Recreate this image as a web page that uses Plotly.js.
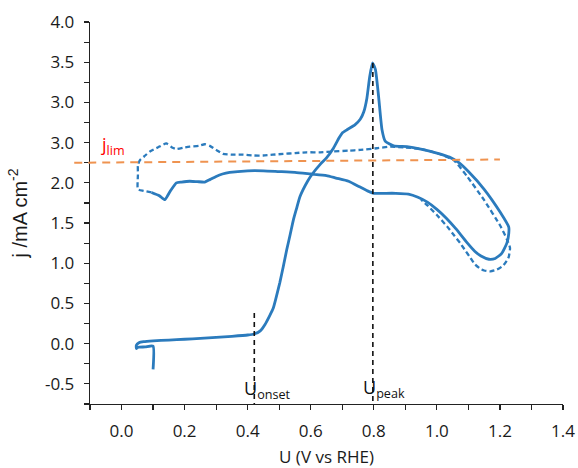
<!DOCTYPE html>
<html>
<head>
<meta charset="utf-8">
<script src="https://cdn.plot.ly/plotly-3.0.1.min.js"></script>
<style>html,body{margin:0;padding:0;background:#fff;}#chart{width:578px;height:468px;}</style>
</head>
<body>
<div id="chart"></div>
<script>
// ---- data ----
// solid scan (first cycle)
const solidU = [0.100,0.100,0.075,0.052,0.047,0.047,0.055,0.070,0.100,0.150,0.200,0.250,0.300,0.350,0.400,0.420,0.440,0.455,0.470,0.481,0.490,0.502,0.513,0.524,0.535,0.545,0.555,0.566,0.590,0.605,0.630,0.650,0.672,0.690,0.700,0.715,0.740,0.757,0.768,0.778,0.787,0.796,0.805,0.815,0.826,0.836,0.863,0.905,0.949,1.000,1.040,1.070,1.100,1.150,1.200,1.228,1.228,1.222,1.205,1.185,1.165,1.140,1.120,1.095,1.060,1.030,1.000,0.970,0.940,0.910,0.870,0.830,0.800,0.780,0.755,0.720,0.680,0.650,0.600,0.550,0.500,0.450,0.400,0.343,0.320,0.300,0.280,0.264,0.240,0.216,0.190,0.174,0.155,0.137,0.120,0.095];
const solidJ = [-0.32,-0.03,-0.04,-0.045,-0.06,-0.02,0.012,0.025,0.035,0.045,0.055,0.065,0.078,0.092,0.108,0.12,0.16,0.24,0.35,0.44,0.57,0.76,0.96,1.17,1.36,1.54,1.68,1.83,2.02,2.11,2.23,2.31,2.43,2.56,2.62,2.66,2.72,2.79,2.88,3.05,3.32,3.49,3.41,3.08,2.66,2.52,2.46,2.45,2.42,2.37,2.32,2.25,2.14,1.92,1.64,1.45,1.37,1.25,1.12,1.06,1.05,1.09,1.15,1.26,1.43,1.56,1.67,1.76,1.82,1.86,1.87,1.87,1.87,1.90,1.95,2.02,2.06,2.09,2.11,2.13,2.14,2.15,2.15,2.13,2.11,2.08,2.04,2.01,2.015,2.02,2.01,2.00,1.90,1.79,1.84,1.88];
// dashed scan (second cycle)
const dashU = [0.095,0.070,0.052,0.052,0.052,0.058,0.075,0.090,0.115,0.142,0.160,0.174,0.200,0.216,0.245,0.264,0.280,0.300,0.322,0.350,0.386,0.420,0.449,0.480,0.513,0.550,0.587,0.630,0.672,0.720,0.757,0.810,0.852,0.900,0.950,1.000,1.054,1.096,1.149,1.202,1.223,1.232,1.228,1.223,1.210,1.190,1.170,1.150,1.138,1.120,1.106,1.090,1.074,1.050,1.032,1.000,0.970,0.950];
const dashJ = [1.88,1.90,1.92,2.10,2.22,2.28,2.34,2.39,2.44,2.49,2.44,2.42,2.44,2.45,2.46,2.48,2.46,2.41,2.36,2.35,2.35,2.34,2.34,2.35,2.36,2.37,2.38,2.38,2.39,2.40,2.41,2.43,2.45,2.44,2.42,2.37,2.28,2.08,1.79,1.46,1.29,1.19,1.08,1.04,0.97,0.92,0.90,0.91,0.93,0.99,1.07,1.16,1.25,1.37,1.46,1.60,1.72,1.79];
// marker lines
const onsetU = [0.421, 0.421];
const onsetJ = [0.38, -0.75];
const peakU = [0.797, 0.797];
const peakJ = [3.49, -0.75];
const jlimU = [-0.15, 1.20];
const jlimJ = [2.25, 2.29];
// axes
const xRange = [-0.1, 1.4];
const yRange = [-0.75, 4.0];
const yTickVals = [-0.5, 0.0, 0.5, 1.0, 1.5, 2.0, 2.5, 3.0, 3.5, 4.0];
const yTickText = ['-0.5', '0.0', '0.5', '1.0', '1.5', '2.0', '3.0', '3.0', '3.5', '4.0'];

const blue = '#2B7BBD';
const tickFont = {family: 'Open Sans, Lato, sans-serif', size: 17, color: '#1a1a1a'};

const traces = [
  {x: dashU, y: dashJ, mode: 'lines', line: {color: blue, width: 2.3, dash: '5px,3px', shape: 'spline', smoothing: 0.5}, hoverinfo: 'skip'},
  {x: solidU, y: solidJ, mode: 'lines', line: {color: blue, width: 2.8, shape: 'spline', smoothing: 0.5}, hoverinfo: 'skip'},
  {x: onsetU, y: onsetJ, mode: 'lines', line: {color: '#111', width: 1.6, dash: '5px,4px'}, hoverinfo: 'skip'},
  {x: peakU, y: peakJ, mode: 'lines', line: {color: '#111', width: 1.6, dash: '5px,4px'}, hoverinfo: 'skip'}
];

const px = v => (v - xRange[0]) / (xRange[1] - xRange[0]);
const py = v => (v - yRange[0]) / (yRange[1] - yRange[0]);

const layout = {
  width: 578, height: 468,
  margin: {l: 90, r: 15, t: 22, b: 64},
  paper_bgcolor: '#fff', plot_bgcolor: '#fff',
  showlegend: false,
  xaxis: {
    range: xRange, tick0: 0, dtick: 0.2, tickformat: '.1f',
    showgrid: false, zeroline: false, showline: true, linecolor: '#222', linewidth: 1.3,
    ticks: 'outside', ticklen: 5, tickcolor: '#222', tickwidth: 1.2,
    ticklabelstandoff: 6,
    minor: {dtick: 0.1, tick0: 0, ticks: 'outside', ticklen: 5, tickcolor: '#222', tickwidth: 1.2, showgrid: false},
    tickfont: tickFont,
    title: {text: 'U (V vs RHE)', font: {family: 'Open Sans, Lato, sans-serif', size: 17, color: '#1a1a1a'}, standoff: 16}
  },
  yaxis: {
    range: yRange, tickmode: 'array', tickvals: yTickVals, ticktext: yTickText,
    showgrid: false, zeroline: false, showline: true, linecolor: '#222', linewidth: 1.3,
    ticks: 'outside', ticklen: 5, tickcolor: '#222', tickwidth: 1.2,
    ticklabelstandoff: 6,
    minor: {tickmode: 'linear', dtick: 0.25, tick0: 0, ticks: 'outside', ticklen: 5, tickcolor: '#222', tickwidth: 1.2, showgrid: false},
    tickfont: tickFont,
    title: {text: 'j /mA cm<sup>-2</sup>', font: {family: 'Liberation Sans, Arial, sans-serif', size: 20, color: '#1a1a1a'}, standoff: 12}
  },
  shapes: [
    {type: 'line', xref: 'paper', yref: 'paper', x0: px(jlimU[0]), x1: px(jlimU[1]), y0: py(jlimJ[0]), y1: py(jlimJ[1]),
     line: {color: '#EF9350', width: 2, dash: '8px,6px'}}
  ],
  annotations: [
    {x: -0.07, y: 2.47, xref: 'x', yref: 'y', xanchor: 'left', yanchor: 'middle', showarrow: false,
     text: 'j<sub>lim</sub>', font: {family: 'Open Sans, Lato, sans-serif', size: 18, color: '#FF0000'}},
    {x: 0.383, y: -0.57, xref: 'x', yref: 'y', xanchor: 'left', yanchor: 'middle', showarrow: false,
     text: 'U<sub>onset</sub>', font: {family: 'Open Sans, Lato, sans-serif', size: 18, color: '#111'}},
    {x: 0.760, y: -0.56, xref: 'x', yref: 'y', xanchor: 'left', yanchor: 'middle', showarrow: false,
     text: 'U<sub>peak</sub>', font: {family: 'Open Sans, Lato, sans-serif', size: 18, color: '#111'}}
  ]
};

Plotly.newPlot('chart', traces, layout, {staticPlot: true, displayModeBar: false});
</script>
</body>
</html>
